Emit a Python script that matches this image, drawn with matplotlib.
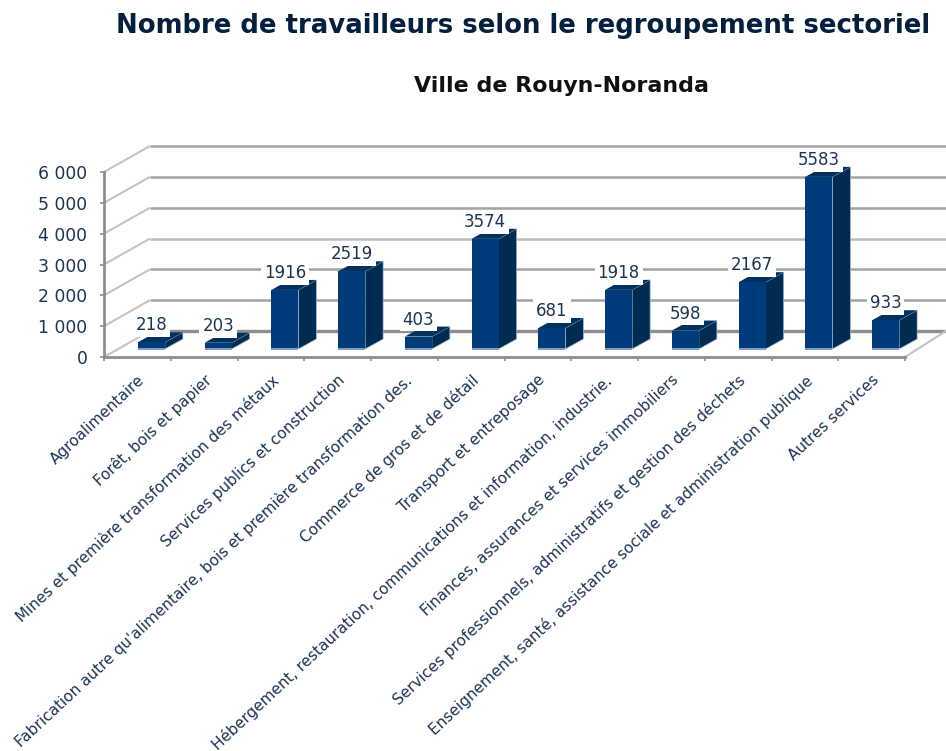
import matplotlib
matplotlib.use("Agg")
import matplotlib.pyplot as plt
from matplotlib.ticker import FixedLocator, NullFormatter

categories = ["Agroalimentaire", "Forêt, bois et papier",
              "Mines et première transformation des métaux",
              "Services publics et construction",
              "Fabrication autre qu'alimentaire, bois et première transformation des.",
              "Commerce de gros et de détail", "Transport et entreposage",
              "Hébergement, restauration, communications et information, industrie.",
              "Finances, assurances et services immobiliers",
              "Services professionnels, administratifs et gestion des déchets",
              "Enseignement, santé, assistance sociale et administration publique",
              "Autres services"]
values = [218, 203, 1916, 2519, 403, 3574, 681, 1918, 598, 2167, 5583, 933]
y_ticks = [0, 1000, 2000, 3000, 4000, 5000, 6000]
y_labels = ["0", "1 000", "2 000", "3 000", "4 000", "5 000", "6 000"]
grid_colors = ["#8e8e90", "#a3a3a5", "#a3a3a5", "#bdbdbf", "#a3a3a5", "#a3a3a5", "#a3a3a5"]

W, H = 946, 751
L, R, T, B = 104, 905, 172, 357
NAVY = "#1b3556"
fig = plt.figure(figsize=(W/100, H/100), dpi=100, facecolor="white")
ax = fig.add_axes([L/W, 1-B/H, (R-L)/W, (B-T)/H])
ax.set_xlim(-0.5, 11.5)
ax.set_ylim(0, 6000)
px = 12/(R-L)          # data x per pixel
py = 6000/(B-T)        # data y per pixel
wall_dx, wall_dy = 46*px, 26*py

for s in ["top", "right"]:
    ax.spines[s].set_visible(False)
for s in ["left", "bottom"]:
    ax.spines[s].set_color("#8e8e90")
    ax.spines[s].set_linewidth(2.0)

# walls
right_edge = -0.5 + (W-L)*px
for v, c in zip(y_ticks, grid_colors):
    ax.plot([-0.5+wall_dx, right_edge], [v+wall_dy]*2, color=c, lw=1.8 if v else 2.4,
            clip_on=False, zorder=1, solid_capstyle="butt")
    ax.plot([-0.5, -0.5+wall_dx], [v, v+wall_dy], color="#c4c4c6", lw=1.5,
            clip_on=False, zorder=1, solid_capstyle="butt")
ax.plot([11.5, 11.5+41*px], [0, wall_dy], color="#c4c4c6", lw=1.5, clip_on=False, zorder=1)

# bars
off_x, off_y = 14*px, 8*py
bw = 27*px
side_x, side_y = 18*px, 10*py
for i, v in enumerate(values):
    x0 = i + off_x - bw/2
    x1 = x0 + bw
    b = off_y
    t = b + v
    ax.fill([x1, x1+side_x, x1+side_x, x1], [b, b+side_y, t+side_y, t],
            color="#012c52", ec="#9fb4cc", lw=0.5, clip_on=False, zorder=3)
    ax.fill([x0, x1, x1+side_x, x0+side_x], [t, t, t+side_y, t+side_y],
            color="#023160", lw=0, clip_on=False, zorder=3)
    ax.bar(x0, v, width=bw, bottom=b, align="edge", color="#003c7c", zorder=4, clip_on=False)
    ax.bar(x0, 2*py, width=bw, bottom=b-0.5*py, align="edge", color="#7f9fc5", zorder=5, clip_on=False)
    ax.text(i + off_x, t + 17*py, str(v), ha="center", va="center", fontsize=12, color=NAVY,
            zorder=6, clip_on=False,
            bbox=dict(facecolor="white", edgecolor="none", pad=2))

ax.set_yticks(y_ticks, y_labels)
ax.tick_params(axis="y", length=3, width=1.2, color="#8e8e90", labelsize=12.4,
               labelcolor=NAVY, pad=9)
ax.xaxis.set_major_locator(FixedLocator([k-0.5 for k in range(13)]))
ax.xaxis.set_major_formatter(NullFormatter())
ax.xaxis.set_minor_locator(FixedLocator(list(range(12))))
ax.set_xticklabels(categories, minor=True, rotation=43, ha="right", rotation_mode="anchor",
                   fontsize=11.0, color=NAVY)
ax.tick_params(axis="x", which="major", length=3, width=1.2, color="#8e8e90")
ax.tick_params(axis="x", which="minor", length=0, pad=11)

fig.text(523/W, 1-26/H, "Nombre de travailleurs selon le regroupement sectoriel",
         ha="center", va="center", fontsize=18.7, fontweight="bold", color="#05203f")
fig.text(562/W, 1-86/H, "Ville de Rouyn-Noranda", ha="center", va="center",
         fontsize=15.9, fontweight="bold", color="#111111")
fig.savefig("out.png", dpi=100)
